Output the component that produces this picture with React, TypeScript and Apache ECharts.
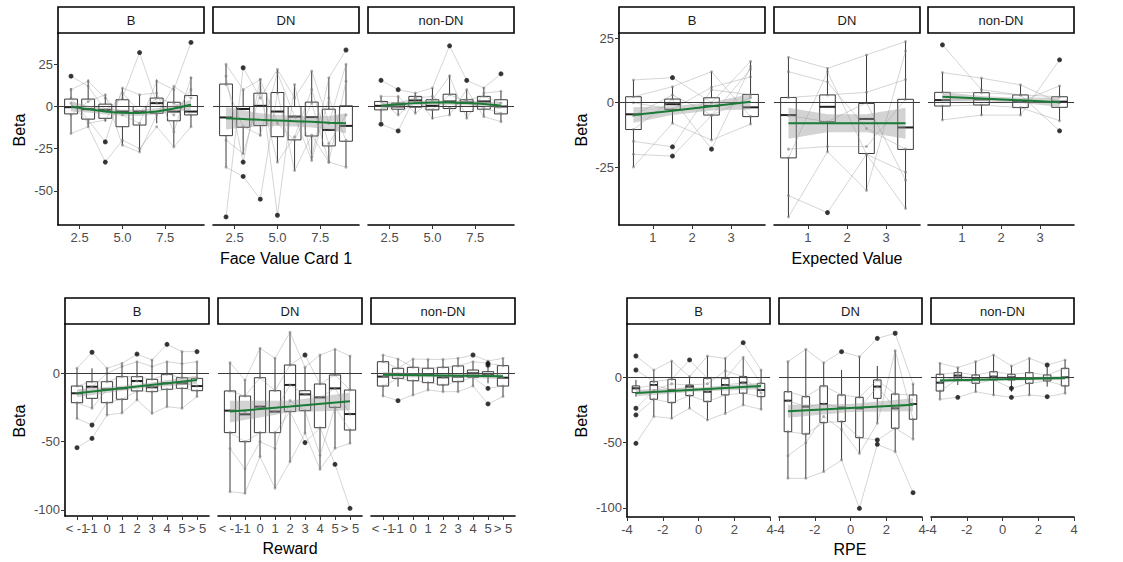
import React, { useEffect, useRef } from 'react';
import * as echarts from 'echarts';

const FACETS = ['B', 'DN', 'non-DN'];
const FONT = '"Liberation Sans", Arial, Helvetica, sans-serif';

// ---------------- Panel 1: Face Value Card 1 ----------------
const faceX = [2, 3, 4, 5, 6, 7, 8, 9];
const faceTicksX = [2.5, 5, 7.5];
const faceTicksY = [-50, -25, 0, 25];
// [min, q1, median, q3, max]
const faceBoxB = [
  [-16, -4.4, -0.4, 4.4, 11], [-12, -7.5, -1.6, 4.4, 16], [-9, -7, -2, 1.4, 7], [-23, -12, -3, 4, 11],
  [-27, -11, -3, 0, 7], [-10, -4, 2, 5, 16], [-24, -8.5, -3, 2.5, 11.5], [-12, -5, -3, 6.5, 17.5],
];
const faceBoxDN = [
  [-36, -17.3, -6.5, 13.3, 25], [-28, -12.3, -1.5, 0, 10], [-17.7, -11.3, 0.4, 7.9, 16], [-33, -17.9, -3, 8.3, 22],
  [-38, -19.8, -6, 0, 13], [-32, -17.5, -6.3, 2.6, 21], [-33, -23.4, -13.9, -1.6, 17], [-36, -20.6, -11.5, 0.4, 25],
];
const faceBoxNonDN = [
  [-9, -2, 0.4, 3, 6], [-5, -1.6, 0, 2, 6], [-4, -0.4, 3.6, 6, 8], [-7.5, -2, 0.4, 4, 11],
  [-5, -1.2, 3, 7.3, 18.8], [-7, -3, 2.4, 4, 10], [-6, -1.6, 3, 6, 11.5], [-9, -4.4, 0, 4, 9],
];
const faceOutB = [[2, 18], [4, -21], [4, -33], [6, 32], [9, 38]];
const faceOutDN = [[2, -65.5], [3, 23], [3, -33], [3, -41.5], [4, -55], [5, -64.5], [9, 33.5]];
const faceOutNonDN = [[2, 15.5], [2, -10.5], [3, 10], [3, -14.5], [6, 36], [7, 15.5], [9, 19.4]];
const faceLinesB = [
  [18, 12, -2, 5, 32, 2, -5, 10], [10, 15, 5, -5, -10, 15, 10, 38], [-16, -12, -33, -20, -25, -12, -24, -12],
  [5, -8, -21, 11, 7, 8, -15, 17], [-5, 3, 7, -23, -27, -5, 12, 5], [2, -10, -8, 8, -3, 5, 2, -5],
];
const faceLinesDN = [
  [25, 10, 16, -64.5, 13, -30, 17, 33.5], [-65.5, 23, 5, 22, 5, 21, -10, 25], [-36, -41.5, -55, 8, -38, -17, -33, -36],
  [18, -33, 16, -10, -20, 2, -33, 15], [13, -12, -17, 20, -6, -32, 5, -20], [-20, -28, 8, -33, -18, 10, -22, -5],
];
const faceLinesNonDN = [
  [15.5, 10, 8, 11, 36, 15.5, 11, 19.4], [-10.5, -14.5, 6, -7, -5, 10, -6, -9], [6, 6, -4, 4, 18, -7, 8, 9],
  [3, -5, 3, -2, 7, 3, -1, -4], [-2, 2, 5, 6, -1, 4, 6, 2],
];
const faceFitB = [0, -1.6, -2.9, -3.7, -3.8, -2.9, -1.2, 1];
const faceBandLoB = [-3, -3.6, -4.7, -5.5, -5.6, -4.7, -3.2, -2];
const faceBandHiB = [3, 0.4, -1.1, -1.9, -2, -1.1, 0.8, 4];
const faceFitDN = [-7, -7.4, -7.9, -8.3, -8.7, -9.1, -9.6, -10];
const faceBandLoDN = [-13.7, -12.5, -11.8, -11.6, -11.8, -12.4, -13.6, -16];
const faceBandHiDN = [-0.3, -2.3, -4, -5, -5.6, -5.8, -5.6, -4];
const faceFitNonDN = [0.5, 1.3, 2, 2.3, 2.3, 2, 1.5, 0.5];
const faceBandLoNonDN = [-1.5, -0.2, 0.8, 1.1, 1.1, 0.8, 0, -1.5];
const faceBandHiNonDN = [2.5, 2.8, 3.2, 3.5, 3.5, 3.2, 3, 2.5];

// ---------------- Panel 2: Expected Value ----------------
const evX = [0.5, 1.5, 2.5, 3.5];
const evTicksX = [1, 2, 3];
const evTicksY = [-25, 0, 25];
const evBoxB = [[-24.9, -10.4, -4.5, 2.3, 8.8], [-8, -2.6, -0.6, 1.4, 6.2], [-14.5, -4.8, -1.3, 1.9, 12], [-8.3, -5.4, -1.8, 3.2, 16]];
const evBoxDN = [[-44.3, -21.4, -4.8, 2, 17.6], [-19, -7.4, -1.6, 3, 13.3], [-34, -19.7, -6.3, -0.3, 18.5], [-41, -18.1, -9.6, 1.3, 23.7]];
const evBoxNonDN = [[-6.7, -1.3, 1, 4, 11.7], [-4.8, -0.9, 1.3, 3.9, 9.5], [-4.8, -1.9, 0.4, 3, 6.9], [-7, -1.8, 0.4, 2.3, 6.5]];
const evOutB = [[1.5, 9.7], [1.5, -17.1], [1.5, -20.7], [2.5, -18]];
const evOutDN = [[1.5, -42.6]];
const evOutNonDN = [[0.5, 22.4], [3.5, 16.6], [3.5, -10.9]];
const evLinesB = [
  [8.8, 9.7, 0, 16], [-24.9, -8, -14.5, -8.3], [-20, -20.7, -5, 13], [-15, -17.1, 5, 3],
  [2.3, 6.2, 12, -5.4], [-10.4, 1.4, -18, 14], [0, -2.6, 6, 10], [-5, 3, -4.8, 2],
];
const evLinesDN = [
  [17.6, 13.3, 18.5, 23.7], [-44.3, -19, -34, 20], [-36, -42.6, -20, -27], [2, 3, 4, 9],
  [-21.4, 12, -20, -41], [12, 8, -10, -18], [-5, -7.4, 0, -30], [-18, -17, -17, 1.3],
];
const evLinesNonDN = [
  [22.4, 5, 3, -10.9], [11.7, 9.5, 6.9, 0], [-6.7, -4.8, -4.8, 16.6], [4, 3.9, 3, 2.3], [-1.3, -0.9, -1.9, -7], [1, 1.3, 0.4, 6.5],
];
const evFitB = [-4.8, -3.1, -1.4, 0.4];
const evBandLoB = [-7.8, -4.8, -3, -2.6];
const evBandHiB = [-1.8, -1.4, 0.2, 3.4];
const evFitDN = [-8, -8, -8, -8];
const evBandLoDN = [-14, -11.5, -11.5, -14];
const evBandHiDN = [-2, -4.5, -4.5, -2];
const evFitNonDN = [2.3, 1.6, 0.9, 0.2];
const evBandLoNonDN = [0.5, 0.6, -0.1, -1.6];
const evBandHiNonDN = [4.1, 2.6, 1.9, 2];

// ---------------- Panel 3: Reward ----------------
const rwX = [1, 2, 3, 4, 5, 6, 7, 8, 9];
const rwLabels = ['< -1', '-1', '0', '1', '2', '3', '4', '5', '> 5'];
const rwLabelMain = [1, 3, 4, 5, 6, 7, 8, 9];
const rwLabelAlt = [2];
const rwTicksY = [-100, -50, 0];
const rwBoxB = [
  [-33, -21.5, -14.6, -9.3, 3.7], [-25.6, -18.3, -9.8, -6.1, 3.7], [-30.5, -21.5, -11.7, -6.1, 3.7],
  [-29, -19, -11, -2.4, 7.3], [-19.5, -12.9, -5.6, -2.4, 8.5], [-29.3, -13.4, -10.2, -4.4, 9.8],
  [-24.4, -11.7, -7.3, -0.7, 8.5], [-25.6, -11, -7.3, -3.2, 15.9], [-17, -12.7, -9.3, -3.7, 8.5],
];
const rwBoxDN = [
  [-86.6, -43.4, -27.3, -12.9, 7.8], [-87.8, -50, -30, -16.6, -4.9], [-61, -43.4, -24.4, -3.2, 18.3],
  [-84, -43.4, -28, -12.7, 11], [-64.6, -28, -8.5, 6.1, 30], [-43.9, -27.3, -15.4, -12.7, 4.4],
  [-70.2, -39.8, -17.6, -7.8, 13.4], [-54.9, -24.9, -11, -1.2, 17.6], [-51.2, -41.5, -29.8, -12.2, 12.7],
];
const rwBoxNonDN = [
  [-16.6, -9.3, -2.4, 8.5, 13.4], [-9.8, -3.7, -0.5, 3.7, 10.5], [-15.9, -5.4, -0.7, 4.4, 10.5],
  [-12.2, -6.8, -1.2, 3.7, 10.2], [-13.4, -8.5, -2.9, 4.4, 10.2], [-13.4, -6.1, -2.4, 5.4, 11],
  [-9.3, -2.9, 0, 2.4, 8.5], [-7.3, -2.4, -0.7, 1.2, 8.5], [-17, -9.3, -3.2, 5.6, 11],
];
const rwOutB = [[1, -54.4], [2, 15.4], [2, -37.8], [2, -47.6], [5, 14.1], [7, 21.2], [9, 15.9]];
const rwOutDN = [[6, 13.4], [6, -50.7], [8, -66.6], [9, -98.8]];
const rwOutNonDN = [[2, -20], [7, 13.4], [8, 7.3], [8, 6], [8, -11], [8, -22.4]];
const rwLinesB = [
  [3.7, 15.4, 3.7, 7.3, 14.1, 9.8, 21.2, 15.9, 15.9], [-54.4, -47.6, -30.5, -29, -19.5, -29.3, -24.4, -25.6, -17],
  [-33, -37.8, -21.5, -19, -12.9, -13.4, -11.7, -11, -12.7], [-9.3, -6.1, -6.1, -2.4, -2.4, -4.4, -0.7, -3.2, -3.7],
  [-21.5, -25.6, -11.7, -11, -5.6, -10.2, -7.3, -7.3, -9.3], [-14.6, -9.8, 0, 5, 8.5, 5, 8.5, 7, 8.5],
];
const rwLinesDN = [
  [7.8, -4.9, 18.3, 11, 30, 4.4, 13.4, 17.6, 12.7], [-86.6, -87.8, -61, -84, -64.6, -43.9, -70.2, -54.9, -51.2],
  [-43.4, -50, -43.4, -43.4, -28, -50.7, -39.8, -66.6, -98.8], [-12.9, -16.6, -3.2, -12.7, 6.1, 13.4, -7.8, -1.2, -12.2],
  [-27.3, -28, -24.4, -28, -8.5, -15.4, -17.6, -11, -29.8], [-55, -70, -50, -55, -20, -27.3, -60, -24.9, -41.5],
];
const rwLinesNonDN = [
  [8.5, 3.7, 10.5, 10.2, 10.2, 11, 13.4, 9, 11], [-16.6, -20, -15.9, -12.2, -13.4, -13.4, -9.3, -22.4, -17],
  [-2.4, -0.5, -0.7, -1.2, -2.9, -2.4, 0, -0.7, -3.2], [13.4, 10.5, 4.4, 3.7, 4.4, 5.4, 8.5, 7.3, 5.6],
  [-9.3, -3.7, -5.4, -6.8, -8.5, -6.1, -2.9, -11, -9.3],
];
const rwFitX = [1, 5, 9];
const rwFitB = [-14.6, -9.7, -4.8];
const rwBandLoB = [-17.5, -11.3, -7.8];
const rwBandHiB = [-11.7, -8.1, -1.8];
const rwFitDN = [-28, -24.3, -20.5];
const rwBandLoDN = [-36, -28.5, -27];
const rwBandHiDN = [-20, -20.1, -14];
const rwFitNonDN = [-1, -1.6, -2.2];
const rwBandLoNonDN = [-3, -2.8, -4.2];
const rwBandHiNonDN = [1, -0.4, -0.2];

// ---------------- Panel 4: RPE ----------------
const rpeX = [-3.5, -2.5, -1.5, -0.5, 0.5, 1.5, 2.5, 3.5];
const rpeTicksX = [-4, -2, 0, 2, 4];
const rpeTicksY = [-100, -50, 0];
const rpeBoxB = [
  [-14.8, -11.7, -8.4, -6.6, -2], [-30, -16.8, -5.9, -3.3, 5.6], [-31.4, -19.4, -9.7, -1.5, 12.5], [-23.7, -14, -7.1, -5.9, 0.5],
  [-32.7, -18.6, -11, -0.8, 16.3], [-27.6, -13.5, -5.9, -0.8, 14.5], [-21.2, -12.2, -4.1, 0.5, 15.3], [-24.5, -14.8, -9.7, -4.6, 5.6],
];
const rpeBoxDN = [
  [-77.3, -41.6, -17.9, -11, 12], [-77.3, -43.4, -22.4, -14.8, 21.4], [-72.2, -34.7, -20.4, -6.6, 11.2], [-63.3, -33.9, -23.2, -13.5, 5.6],
  [-58.2, -46.2, -23.7, -15.3, 15.8], [-35.2, -16.1, -7.1, -2, 8.7], [-56.9, -39, -23.7, -12.8, 20.4], [-47.4, -32.1, -20.4, -13.5, -5.1],
];
const rpeBoxNonDN = [
  [-16.8, -10.5, -4.1, 2.3, 10.7], [-5.9, -1.5, 1.3, 3.6, 7.4], [-11, -4.6, -0.8, 1.8, 12], [-13.5, -2, 0.5, 4.3, 17.1],
  [-11, -2, 0, 2.3, 8.7], [-13.5, -4.6, -0.8, 3.6, 14.5], [-7.1, -2.8, -0.8, 1.8, 7.7], [-12.2, -6.6, 0, 6.9, 13.3],
];
const rpeOutB = [[-3.5, 16.3], [-3.5, 5.6], [-3.5, -23.7], [-3.5, -28.8], [-3.5, -50.5], [-0.5, 13.3], [2.5, 26.5]];
const rpeOutDN = [[-0.5, 19.6], [0.5, -100.3], [1.5, 29.8], [1.5, -48], [1.5, -51.3], [2.5, 33.7], [3.5, -88.3]];
const rpeOutNonDN = [[-2.5, -15.3], [0.5, -8.4], [0.5, -15.3], [2.5, 9.4], [2.5, -14.8]];
const rpeLinesB = [
  [16.3, 5.6, 12.5, 0.5, 16.3, 14.5, 26.5, 5.6], [-50.5, -30, -31.4, -23.7, -32.7, -27.6, -21.2, -24.5],
  [5.6, -3.3, -1.5, 13.3, -0.8, -0.8, 15.3, -4.6], [-28.8, -16.8, -19.4, -14, -18.6, -13.5, -12.2, -14.8],
  [-8.4, -5.9, -9.7, -7.1, -11, -5.9, -4.1, -9.7], [-23.7, -10, -5, -5.9, -5, 5, 0.5, -12],
];
const rpeLinesDN = [
  [12, 21.4, 11.2, 19.6, 15.8, 29.8, 33.7, -5.1], [-77.3, -77.3, -72.2, -63.3, -100.3, -51.3, -56.9, -88.3],
  [-11, -14.8, -6.6, -13.5, -15.3, -2, -12.8, -13.5], [-41.6, -43.4, -34.7, -33.9, -46.2, -48, -39, -47.4],
  [-17.9, -22.4, -20.4, -23.2, -23.7, -7.1, -23.7, -20.4], [-60, -50, -30, -40, -58.2, -35.2, 20.4, -32.1],
];
const rpeLinesNonDN = [
  [10.7, 7.4, 12, 17.1, 8.7, 14.5, 9.4, 13.3], [-16.8, -15.3, -11, -13.5, -15.3, -13.5, -14.8, -12.2],
  [2.3, 3.6, 1.8, 4.3, 2.3, 3.6, 1.8, 6.9], [-10.5, -1.5, -4.6, -2, -8.4, -4.6, -2.8, -6.6],
  [-4.1, 1.3, -0.8, 0.5, 0, -0.8, -0.8, 0],
];
const rpeFitX = [-3.5, 0, 3.5];
const rpeFitB = [-12, -9.3, -6.6];
const rpeBandLoB = [-14.5, -10.8, -9.1];
const rpeBandHiB = [-9.5, -7.8, -4.1];
const rpeFitDN = [-26, -23.5, -21];
const rpeBandLoDN = [-31, -26.5, -26];
const rpeBandHiDN = [-21, -20.5, -16];
const rpeFitNonDN = [-2.5, -1.5, -0.5];
const rpeBandLoNonDN = [-4, -2.5, -2];
const rpeBandHiNonDN = [-1, -0.5, 1];

// ---------------- assembly ----------------
type Facet = { box: number[][]; out: number[][]; lines: number[][]; fit: number[]; lo: number[]; hi: number[] };
type Panel = {
  x: number[]; fitX: number[]; smooth: boolean; boxW: number;
  xMin: number; xMax: number; yMin: number; yMax: number;
  xTicks: number[]; xLabels: number[]; xAltLabels: number[]; yTicks: number[]; xFmt: (v: number) => string;
  facets: Facet[];
  lefts: number[]; top: number; width: number; height: number;
  title: string; titleX: number; titleY: number; betaX: number; betaY: number;
};

const PANELS: Panel[] = [
  {
    x: faceX, fitX: faceX, smooth: true, boxW: 0.75, xMin: 1.24, xMax: 9.76, yMin: -70.3, yMax: 43.6,
    xTicks: faceTicksX, xLabels: faceTicksX, xAltLabels: [], yTicks: faceTicksY, xFmt: (v) => v.toFixed(1),
    facets: [
      { box: faceBoxB, out: faceOutB, lines: faceLinesB, fit: faceFitB, lo: faceBandLoB, hi: faceBandHiB },
      { box: faceBoxDN, out: faceOutDN, lines: faceLinesDN, fit: faceFitDN, lo: faceBandLoDN, hi: faceBandHiDN },
      { box: faceBoxNonDN, out: faceOutNonDN, lines: faceLinesNonDN, fit: faceFitNonDN, lo: faceBandLoNonDN, hi: faceBandHiNonDN },
    ],
    lefts: [58, 213, 368], top: 33, width: 146, height: 192,
    title: 'Face Value Card 1', titleX: 286, titleY: 258, betaX: 19, betaY: 130,
  },
  {
    x: evX, fitX: evX, smooth: false, boxW: 0.4, xMin: 0.13, xMax: 3.87, yMin: -47.4, yMax: 27,
    xTicks: evTicksX, xLabels: evTicksX, xAltLabels: [], yTicks: evTicksY, xFmt: (v) => String(v),
    facets: [
      { box: evBoxB, out: evOutB, lines: evLinesB, fit: evFitB, lo: evBandLoB, hi: evBandHiB },
      { box: evBoxDN, out: evOutDN, lines: evLinesDN, fit: evFitDN, lo: evBandLoDN, hi: evBandHiDN },
      { box: evBoxNonDN, out: evOutNonDN, lines: evLinesNonDN, fit: evFitNonDN, lo: evBandLoNonDN, hi: evBandHiNonDN },
    ],
    lefts: [619, 774, 928], top: 33, width: 146, height: 192,
    title: 'Expected Value', titleX: 847, titleY: 258, betaX: 581, betaY: 130,
  },
  {
    x: rwX, fitX: rwFitX, smooth: false, boxW: 0.75, xMin: 0.2, xMax: 9.8, yMin: -104.4, yMax: 36.1,
    xTicks: rwX, xLabels: rwLabelMain, xAltLabels: rwLabelAlt, yTicks: rwTicksY, xFmt: (v) => rwLabels[Math.round(v) - 1] ?? '',
    facets: [
      { box: rwBoxB, out: rwOutB, lines: rwLinesB, fit: rwFitB, lo: rwBandLoB, hi: rwBandHiB },
      { box: rwBoxDN, out: rwOutDN, lines: rwLinesDN, fit: rwFitDN, lo: rwBandLoDN, hi: rwBandHiDN },
      { box: rwBoxNonDN, out: rwOutNonDN, lines: rwLinesNonDN, fit: rwFitNonDN, lo: rwBandLoNonDN, hi: rwBandHiNonDN },
    ],
    lefts: [65, 218, 371], top: 324, width: 144, height: 192,
    title: 'Reward', titleX: 290, titleY: 548, betaX: 19, betaY: 421,
  },
  {
    x: rpeX, fitX: rpeFitX, smooth: false, boxW: 0.42, xMin: -4, xMax: 4, yMin: -106.9, yMax: 40.8,
    xTicks: rpeTicksX, xLabels: rpeTicksX, xAltLabels: [], yTicks: rpeTicksY, xFmt: (v) => String(v),
    facets: [
      { box: rpeBoxB, out: rpeOutB, lines: rpeLinesB, fit: rpeFitB, lo: rpeBandLoB, hi: rpeBandHiB },
      { box: rpeBoxDN, out: rpeOutDN, lines: rpeLinesDN, fit: rpeFitDN, lo: rpeBandLoDN, hi: rpeBandHiDN },
      { box: rpeBoxNonDN, out: rpeOutNonDN, lines: rpeLinesNonDN, fit: rpeFitNonDN, lo: rpeBandLoNonDN, hi: rpeBandHiNonDN },
    ],
    lefts: [627, 779, 931], top: 324, width: 143, height: 193,
    title: 'RPE', titleX: 850, titleY: 549, betaX: 581, betaY: 421,
  },
];

function boxRender(boxW: number) {
  return (_params: any, api: any) => {
    const x = api.value(0);
    const mn = api.value(1), q1 = api.value(2), md = api.value(3), q3 = api.value(4), mx = api.value(5);
    const pL = api.coord([x - boxW / 2, md]);
    const pR = api.coord([x + boxW / 2, md]);
    const pMin = api.coord([x, mn]);
    const pQ1 = api.coord([x, q1]);
    const pQ3 = api.coord([x, q3]);
    const pMax = api.coord([x, mx]);
    const cx = pMin[0];
    const stroke = '#3a3a3a';
    return {
      type: 'group',
      children: [
        { type: 'line', shape: { x1: cx, y1: pMax[1], x2: cx, y2: pQ3[1] }, style: { stroke, lineWidth: 1 } },
        { type: 'line', shape: { x1: cx, y1: pQ1[1], x2: cx, y2: pMin[1] }, style: { stroke, lineWidth: 1 } },
        {
          type: 'rect',
          shape: { x: pL[0], y: pQ3[1], width: pR[0] - pL[0], height: pQ1[1] - pQ3[1] },
          style: { fill: 'rgba(255,255,255,0.85)', stroke, lineWidth: 1 },
        },
        { type: 'line', shape: { x1: pL[0], y1: pL[1], x2: pR[0], y2: pR[1] }, style: { stroke: '#222', lineWidth: 2 } },
      ],
    };
  };
}

function bandRender(pts: number[][]) {
  return (params: any, api: any) => {
    if (params.dataIndex !== 0) return { type: 'group', children: [] };
    const upper = pts.map((p) => api.coord([p[0], p[2]]));
    const lower = pts.map((p) => api.coord([p[0], p[1]])).reverse();
    return { type: 'polygon', shape: { points: upper.concat(lower) }, style: { fill: 'rgba(150,150,150,0.42)' } };
  };
}

function textEl(text: string, x: number, y: number, size: number, color: string, rotation = 0) {
  return {
    type: 'text', x, y, rotation, silent: true, z: 20,
    style: {
      text, fill: color, font: `${size}px ${FONT}`,
      textAlign: 'center', textVerticalAlign: 'middle', align: 'center', verticalAlign: 'middle',
    },
  };
}

const labelBase = { color: '#4d4d4d', fontSize: 13, fontFamily: FONT, hideOverlap: false };

function buildOption() {
  const grid: any[] = [];
  const xAxis: any[] = [];
  const yAxis: any[] = [];
  const series: any[] = [];
  const graphic: any[] = [];

  PANELS.forEach((p) => {
    p.facets.forEach((f, fi) => {
      const gi = grid.length;
      const left = p.lefts[fi];
      grid.push({ left, top: p.top, width: p.width, height: p.height });
      const xi = xAxis.length;
      xAxis.push({
        gridIndex: gi, type: 'value', position: 'bottom', min: p.xMin, max: p.xMax,
        axisLine: { show: true, onZero: false, lineStyle: { color: '#000', width: 1.6 } },
        axisTick: { show: true, length: 4, customValues: p.xTicks, lineStyle: { color: '#333', width: 1 } },
        axisLabel: {
          ...labelBase, customValues: p.xLabels, formatter: (v: number) => p.xFmt(v), margin: 6,
          showMinLabel: true, showMaxLabel: true,
        },
        splitLine: { show: false },
      });
      if (p.xAltLabels.length) {
        // second bottom axis carrying the labels that sit too close to their neighbours
        xAxis.push({
          gridIndex: gi, type: 'value', position: 'bottom', offset: 0, min: p.xMin, max: p.xMax,
          axisLine: { show: false, onZero: false },
          axisTick: { show: false },
          axisLabel: { ...labelBase, customValues: p.xAltLabels, formatter: (v: number) => p.xFmt(v), margin: 6 },
          splitLine: { show: false },
        });
      }
      const showY = fi === 0;
      yAxis.push({
        gridIndex: gi, type: 'value', min: p.yMin, max: p.yMax,
        axisLine: { show: showY, onZero: false, lineStyle: { color: '#000', width: 1.6 } },
        axisTick: { show: showY, length: 4, customValues: p.yTicks, lineStyle: { color: '#333', width: 1 } },
        axisLabel: { ...labelBase, show: showY, customValues: p.yTicks, margin: 5, showMinLabel: true, showMaxLabel: true },
        splitLine: { show: false },
      });

      // subject lines
      f.lines.forEach((ln) => {
        series.push({
          type: 'line', xAxisIndex: xi, yAxisIndex: gi, silent: true, z: 4,
          data: p.x.map((xv, i) => [xv, ln[i]]),
          symbol: 'circle', symbolSize: 3,
          itemStyle: { color: 'rgba(120,120,120,0.55)' },
          lineStyle: { color: 'rgba(150,150,150,0.5)', width: 0.8 },
        });
      });

      // boxes
      series.push({
        type: 'custom', xAxisIndex: xi, yAxisIndex: gi, silent: true, z: 3,
        dimensions: ['x', 'min', 'q1', 'med', 'q3', 'max'],
        encode: { x: 'x', y: ['min', 'q1', 'med', 'q3', 'max'] },
        data: p.x.map((xv, i) => [xv, ...f.box[i]]),
        renderItem: boxRender(p.boxW),
      });

      // confidence band
      const bandPts = p.fitX.map((xv, i) => [xv, f.lo[i], f.hi[i]]);
      series.push({
        type: 'custom', xAxisIndex: xi, yAxisIndex: gi, silent: true, z: 5,
        dimensions: ['x', 'lo', 'hi'],
        encode: { x: 'x', y: ['lo', 'hi'] },
        data: bandPts,
        renderItem: bandRender(bandPts),
      });

      // outliers + zero reference line
      series.push({
        type: 'scatter', xAxisIndex: xi, yAxisIndex: gi, silent: true, z: 6,
        data: f.out, symbolSize: 5, itemStyle: { color: '#111' },
        markLine: {
          silent: true, symbol: ['none', 'none'], label: { show: false },
          lineStyle: { color: '#3a3a3a', width: 1.1, type: 'solid' },
          data: [{ yAxis: 0 }],
        },
      });

      // fitted line
      series.push({
        type: 'line', xAxisIndex: xi, yAxisIndex: gi, silent: true, z: 7,
        data: p.fitX.map((xv, i) => [xv, f.fit[i]]),
        smooth: p.smooth ? 0.4 : false, symbol: 'none',
        lineStyle: { color: '#1a7a36', width: 2 },
      });

      // strip
      graphic.push({
        type: 'rect', silent: true, z: 15,
        shape: { x: left, y: p.top - 26, width: p.width, height: 26 },
        style: { fill: '#fff', stroke: '#000', lineWidth: 1.6 },
      });
      graphic.push(textEl(FACETS[fi], left + p.width / 2, p.top - 13, 13, '#1a1a1a'));
    });

    graphic.push(textEl(p.title, p.titleX, p.titleY, 16, '#000'));
    graphic.push(textEl('Beta', p.betaX, p.betaY, 16, '#000', Math.PI / 2));
  });

  return {
    animation: false,
    backgroundColor: '#fff',
    grid, xAxis, yAxis, series, graphic,
  };
}

export default function App() {
  const ref = useRef<HTMLDivElement>(null);
  useEffect(() => {
    if (!ref.current) return;
    const chart = echarts.init(ref.current, undefined, { renderer: 'svg' });
    chart.setOption(buildOption() as any);
    return () => chart.dispose();
  }, []);
  return <div ref={ref} style={{ position: 'absolute', left: 0, top: 0, width: 1123, height: 562 }} />;
}
